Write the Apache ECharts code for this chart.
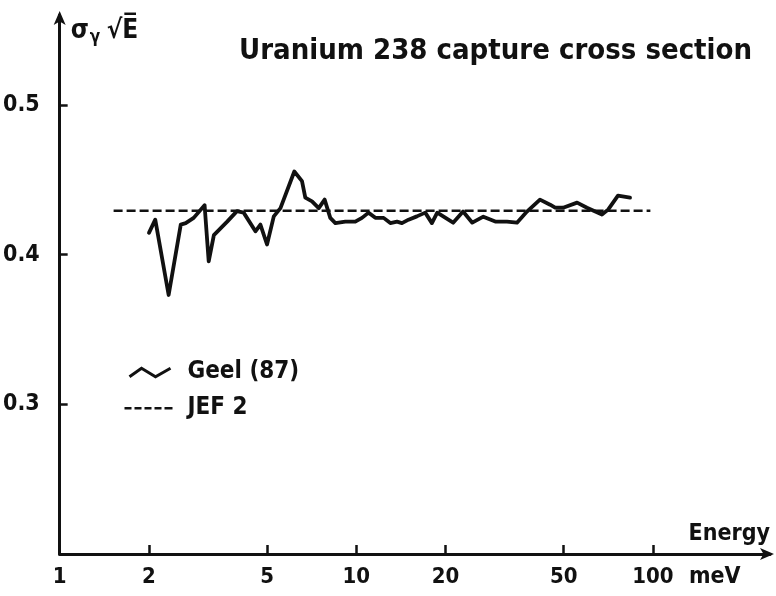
<!DOCTYPE html>
<html>
<head>
<meta charset="utf-8">
<script src="https://cdn.jsdelivr.net/npm/echarts@6/dist/echarts.min.js"></script>
<style>html,body{margin:0;padding:0;background:#fff;}#chart{width:776px;height:596px;}</style>
</head>
<body>
<div id="chart"></div>
<script>
// Energy (meV) and sigma_gamma*sqrt(E) values
const geelEnergy = [2.00, 2.10, 2.33, 2.56, 2.66, 2.83, 3.08, 3.18, 3.31, 3.67, 3.96, 4.17, 4.57, 4.75, 5.00, 5.27, 5.55, 6.18, 6.56, 6.73, 7.09, 7.47, 7.82, 8.17, 8.50, 9.18, 9.92, 10.45, 11.0, 11.59, 12.36, 13.02, 13.71, 14.25, 15.0, 16.0, 17.07, 17.98, 18.74, 21.2, 22.9, 24.6, 26.8, 29.4, 32.2, 34.8, 37.6, 41.6, 45.0, 46.8, 49.8, 55.5, 59.9, 67.3, 70.6, 76.2, 83.7];
const geelValue  = [0.4145, 0.4233, 0.373, 0.420, 0.421, 0.4245, 0.433, 0.3955, 0.413, 0.422, 0.429, 0.428, 0.4155, 0.420, 0.4067, 0.4255, 0.431, 0.4555, 0.449, 0.438, 0.4355, 0.431, 0.4367, 0.4245, 0.421, 0.422, 0.422, 0.4245, 0.428, 0.4245, 0.4245, 0.421, 0.422, 0.421, 0.4233, 0.4255, 0.428, 0.421, 0.428, 0.4213, 0.4287, 0.4213, 0.4253, 0.422, 0.422, 0.4213, 0.4287, 0.4367, 0.4333, 0.4313, 0.4313, 0.4347, 0.4313, 0.4267, 0.430, 0.4393, 0.438];
const jefEnergy = [1.52, 98];
const jefValue  = [0.4293, 0.4293];
const xTickValues = [1, 2, 5, 10, 20, 50, 100];
const yTickValues = [0.3, 0.4, 0.5];

const FONT = '"DejaVu Sans Condensed", "Liberation Sans Narrow", "DejaVu Sans", sans-serif';
const geelData = geelEnergy.map((e, i) => [e, geelValue[i]]);
const jefData = jefEnergy.map((e, i) => [e, jefValue[i]]);

const chart = echarts.init(document.getElementById('chart'));
chart.setOption({
  backgroundColor: '#fff',
  animation: false,
  title: {
    text: 'Uranium 238 capture cross section',
    left: 234, top: 32,
    textStyle: { fontFamily: FONT, fontWeight: 'bold', fontSize: 29, color: '#111' }
  },
  grid: { left: 59, right: 6, top: 15, bottom: 42 },
  legend: {
    orient: 'vertical', left: 117, top: 355, itemGap: 12,
    itemWidth: 52, itemHeight: 16, symbolKeepAspect: false,
    textStyle: { fontFamily: FONT, fontWeight: 'bold', fontSize: 24, color: '#111', padding: [0, 0, 0, 6] },
    data: [
      { name: 'Geel (87)', icon: 'path://M0,0 M5,12 L17,4 L31,12 L46,4 M52,15',
        itemStyle: { color: 'none', borderColor: '#111', borderWidth: 3 } },
      { name: 'JEF 2', icon: 'path://M0,7h7v2.5h-7z M10,7h7v2.5h-7z M20,7h7v2.5h-7z M30,7h7v2.5h-7z M40,7h8v2.5h-8z M0,0h1v0.01h-1z M0,16h1v0.01h-1z M51,0h1v0.01h-1z',
        itemStyle: { color: '#111', borderWidth: 0 } }
    ]
  },
  xAxis: {
    type: 'log', min: 1, max: 248, logBase: 10,
    name: 'Energy', nameLocation: 'end', nameGap: 0,
    nameTextStyle: { fontFamily: FONT, fontWeight: 'bold', fontSize: 23, color: '#111', align: 'right', verticalAlign: 'bottom', padding: [0, 0, 8, 0] },
    axisLine: { lineStyle: { color: '#111', width: 3 }, symbol: ['none', 'arrow'], symbolSize: [9, 14], symbolOffset: [0, 4] },
    axisTick: { show: true, inside: true, length: 9, lineStyle: { width: 2.5, color: '#111' }, customValues: xTickValues },
    axisLabel: { customValues: xTickValues, fontFamily: FONT, fontWeight: 'bold', fontSize: 22, color: '#111', margin: 12, formatter: v => String(Math.round(v)) },
    splitLine: { show: false },
    minorTick: { show: false }
  },
  yAxis: {
    type: 'value', min: 0.2, max: 0.56,
    name: '{s|σ}{g|γ} {s|√E̅}', nameLocation: 'end', nameGap: -16,
    nameTextStyle: { align: 'left', verticalAlign: 'middle', padding: [0, 0, 0, 11],
      rich: {
        s: { fontFamily: FONT, fontWeight: 'bold', fontSize: 26, color: '#111' },
        g: { fontFamily: FONT, fontWeight: 'bold', fontSize: 17, color: '#111', verticalAlign: 'bottom', padding: [14, 3, 0, 1] }
      } },
    axisLine: { show: true, lineStyle: { color: '#111', width: 3 }, symbol: ['none', 'arrow'], symbolSize: [9, 14], symbolOffset: [0, 4] },
    axisTick: { show: true, inside: true, length: 8, lineStyle: { width: 2.5, color: '#111' }, customValues: yTickValues },
    axisLabel: { customValues: yTickValues, fontFamily: FONT, fontWeight: 'bold', fontSize: 23, color: '#111', margin: 20, formatter: v => v.toFixed(1) },
    splitLine: { show: false }
  },
  graphic: [
    { type: 'text', left: 689, top: 566, style: { text: 'meV', fontFamily: FONT, fontWeight: 'bold', fontSize: 23, fill: '#111' } }
  ],
  series: [
    { name: 'Geel (87)', type: 'line', data: geelData, showSymbol: false, symbol: 'none',
      lineStyle: { color: '#111', width: 3.8, join: 'round', cap: 'round' }, itemStyle: { color: '#111' } },
    { name: 'JEF 2', type: 'line', data: jefData, showSymbol: false, symbol: 'none',
      lineStyle: { color: '#111', width: 2.5, type: [9, 4] }, itemStyle: { color: '#111' } }
  ]
});
</script>
</body>
</html>
